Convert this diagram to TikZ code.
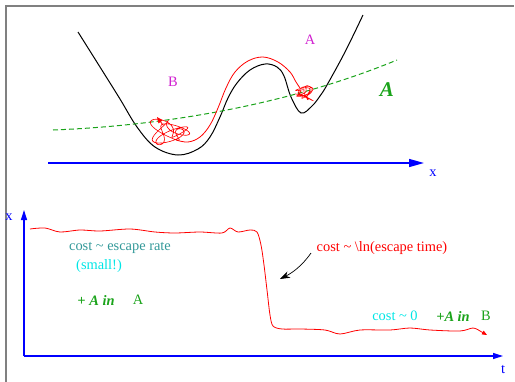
\documentclass[tikz,border=0pt]{standalone}
\usepackage{fontspec}
\setmainfont{Liberation Serif}
\usetikzlibrary{arrows.meta}
\definecolor{xmag}{RGB}{208,32,208}
\definecolor{xgreen}{RGB}{26,163,26}
\definecolor{xteal}{RGB}{51,153,153}
\definecolor{xcyan}{RGB}{0,230,230}
\definecolor{xframe}{RGB}{128,128,128}
\tikzset{
  lbl/.style={inner sep=0pt, font=\fontsize{14.4}{17}\selectfont},
  axis/.style={blue, line width=1.4pt},
  redpath/.style={red, line width=0.8pt},
}
\begin{document}
\begin{tikzpicture}[x=1pt,y=-1pt]
\useasboundingbox (0,0) rectangle (515,381);
% frame
\draw[xframe, line width=2pt] (5.5,390) -- (5.5,5.5) -- (514,5.5);

% ---------- top panel ----------
% potential
\draw[black, line width=1pt] plot[smooth, tension=0.6] coordinates {
 (78,32) (100,67) (120,99) (137,127) (155,147) (178,155) (198,149) (210,137)
 (220,117) (228,98) (237,83) (250,70) (265,64) (277,67) (284,76) (291,97)
 (301,113) (312,106) (320,96) (327,85) (345,52) (363,15)};
% green dashed
\draw[xgreen, line width=1pt, dash pattern=on 5pt off 3pt]
 (53,130) .. controls (180,125) and (300,100) .. (397,60);
% red tangles
\draw[redpath, line width=0.6pt] plot[smooth, domain=0:720, samples=180, variable=\t]
 ({170+13*sin(3*\t)+7*cos(7*\t)},{132+8*cos(5*\t)+5*sin(2*\t)});
\draw[redpath, line width=0.6pt] plot[smooth, domain=0:1080, samples=220, variable=\t]
 ({304+6*sin(4*\t)+3*cos(9*\t)},{93+5*cos(3*\t)+2.5*sin(7*\t)});
% red transition path
\draw[redpath] plot[smooth, tension=0.6] coordinates {
 (300,88) (296,82) (290,72) (278,62) (263,57) (248,61) (235,72) (226,88)
 (218,108) (210,125) (200,137) (188,142) (176,140)};
\draw[redpath, -{Triangle[length=6pt,width=5pt]}] (163,125) -- (157,117);
% x axis
\coordinate (xa0) at (48,163);
\coordinate (xa1) at (424,163);
\draw[axis, -{Triangle[length=15pt,width=8pt]}] (xa0) -- (xa1);
\node[lbl, blue] (xlab) at (433,173) {x};
% labels
\node[lbl, xmag] (Blab) at (173,82) {B};
\node[lbl, xmag] (Alab) at (310,40) {A};
\node[inner sep=0pt, xgreen, font=\fontsize{21}{24}\selectfont\bfseries\itshape] (Agreen) at (387,90) {A};

% ---------- bottom panel ----------
\coordinate (org) at (24,356);
\coordinate (ytop) at (24,210);
\coordinate (tend) at (503,356);
\draw[axis, -{Triangle[length=10pt,width=6pt]}] (org) -- (ytop);
\draw[axis, -{Triangle[length=10pt,width=6pt]}] (org) -- (tend);
\node[lbl, blue] (ylab) at (9,217) {x};
\node[lbl, blue] (tlab) at (503,370) {t};
% red time path
\draw[redpath] plot[smooth, tension=0.5] coordinates {
 (30,229) (45,228) (60,232) (80,230) (100,231) (130,229) (155,232) (175,233)
 (200,232) (222,233) (230,228) (238,232) (250,230) (257,232) (261,245) (264,265)
 (267,290) (270,315) (273,326) (282,329) (300,329) (325,330) (340,334) (360,330)
 (390,330) (410,328) (430,330) (460,331) (473,328) (480,331)};
\draw[redpath, -{Triangle[length=5pt,width=4pt]}] (480,331) -- (487,335);
% texts
\node[lbl, xteal] (cer) at (120,248) {cost \textasciitilde{} escape rate};
\node[lbl, xcyan] (small) at (99,266) {(small!)};
\node[lbl, xgreen, font=\fontsize{14.4}{17}\selectfont\bfseries\itshape] (pAinA) at (96,300) {+ A in};
\node[lbl, xgreen] (AinA) at (138,300) {A};
\node[lbl, red] (cln) at (382,248) {cost \textasciitilde{} \textbackslash ln(escape time)};
\coordinate (arrs) at (311,253);
\coordinate (arre) at (280,279);
\draw[black, line width=0.7pt, -{Stealth[length=10pt,width=7pt]}] (arrs) .. controls (302,266) and (292,273) .. (arre);
\node[lbl, xcyan] (c0) at (395,316) {cost \textasciitilde{} 0};
\node[lbl, xgreen, font=\fontsize{14.4}{17}\selectfont\bfseries\itshape] (pAinB) at (453,316) {+A in};
\node[lbl, xgreen] (AinB) at (486,316) {B};
\end{tikzpicture}
\end{document}
